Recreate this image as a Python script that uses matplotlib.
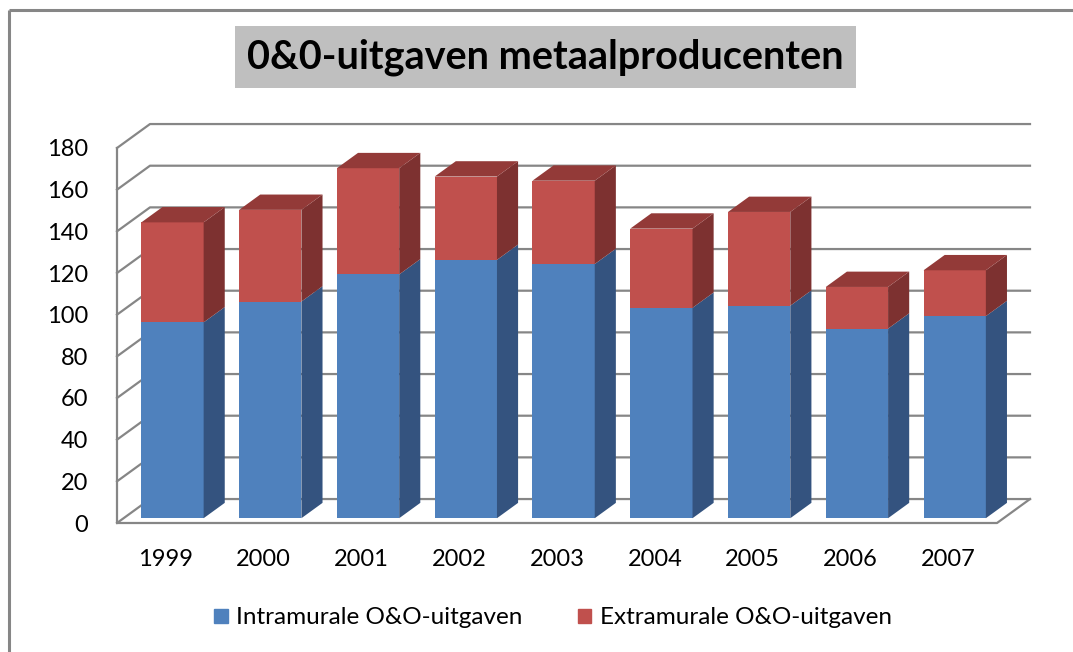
import matplotlib
matplotlib.use("Agg")
import matplotlib.pyplot as plt
from matplotlib.patches import Polygon, Rectangle
from matplotlib.lines import Line2D
import numpy as np

plt.rcParams['font.family'] = ['Lato', 'DejaVu Sans']

years = ['1999', '2000', '2001', '2002', '2003', '2004', '2005', '2006', '2007']
intramuraal = [94, 104, 117, 124, 122, 101, 102, 91, 97]
extramuraal = [48, 44, 51, 40, 40, 38, 45, 20, 22]
yticks = [0, 20, 40, 60, 80, 100, 120, 140, 160, 180]

blue_front, blue_side = '#4F81BD', '#34537F'
red_front, red_side, red_top = '#C0504D', '#7D3130', '#933A38'
grid_col = '#868686'

# oblique depth of the floor/back wall, in data units
ddx, ddy = 0.3375, 11.5
f0, f1 = 0.2, 0.84   # front and back plane of the bars
width = 0.637

fig = plt.figure(figsize=(10.73, 6.52), dpi=100)
ax = fig.add_axes([117 / 1073, 129 / 652, 880 / 1073, 375 / 652])
ax.set_xlim(-0.5, len(years) - 0.5)
ax.set_ylim(0, 180)
for s in ax.spines.values():
    s.set_visible(False)

# chart border (only left and top edges fall inside the image)
bx, by = 8.5 / 1073, 1 - 10 / 652
fig.add_artist(Line2D([bx, bx], [0, by], transform=fig.transFigure,
                      color=grid_col, lw=2.2, solid_capstyle='butt'))
fig.add_artist(Line2D([bx, 1], [by, by], transform=fig.transFigure,
                      color=grid_col, lw=2.2, solid_capstyle='butt'))

# back wall gridlines and floor
x0, x1 = -0.5, len(years) - 0.5
for v in yticks:
    ax.plot([x0, x0 + ddx, x1 + ddx], [v, v + ddy, v + ddy],
            color=grid_col, lw=1.6, clip_on=False, zorder=1)
ax.plot([x0, x0, x1, x1 + ddx], [180, 0, 0, ddy],
        color=grid_col, lw=1.6, clip_on=False, zorder=1)

x = np.arange(len(years))
D = f1 - f0
bottom = np.zeros(len(years))
for vals, front, side in [(intramuraal, blue_front, blue_side),
                          (extramuraal, red_front, red_side)]:
    ax.bar(x + f0 * ddx, vals, width, bottom=bottom + f0 * ddy,
           color=front, zorder=3, clip_on=False)
    for i, v in enumerate(vals):
        xr = i + width / 2 + f0 * ddx
        yb = bottom[i] + f0 * ddy
        yt = yb + v
        ax.add_patch(Polygon([(xr, yb), (xr + D * ddx, yb + D * ddy),
                              (xr + D * ddx, yt + D * ddy), (xr, yt)],
                             closed=True, facecolor=side, edgecolor='none',
                             zorder=3, clip_on=False))
    bottom = bottom + np.array(vals)

# tops of the stacks
for i, t in enumerate(bottom):
    xl = i - width / 2 + f0 * ddx
    xr = xl + width
    yt = t + f0 * ddy
    ax.add_patch(Polygon([(xl, yt), (xr, yt), (xr + D * ddx, yt + D * ddy),
                          (xl + D * ddx, yt + D * ddy)],
                         closed=True, facecolor=red_top, edgecolor='none',
                         zorder=3, clip_on=False))

ax.set_xticks(x)
ax.set_xticklabels(years)
ax.set_yticks(yticks)
ax.tick_params(length=0, labelsize=17, colors='black')
ax.tick_params(axis='x', pad=19)
ax.tick_params(axis='y', pad=21)

fig.text(0.5085, 1 - 57 / 652, '0&0-uitgaven metaalproducenten', ha='center',
         va='center', fontsize=28.5, fontweight='bold',
         bbox=dict(boxstyle='square,pad=0.3', facecolor='#BFBFBF', edgecolor='none'))

# legend
handles = [Rectangle((0, 0), 1, 1, color=blue_front),
           Rectangle((0, 0), 1, 1, color=red_front)]
fig.legend(handles, ['Intramurale O&O-uitgaven', 'Extramurale O&O-uitgaven'],
           loc='center', bbox_to_anchor=(553 / 1073, 1 - 618 / 652), ncol=2,
           frameon=False, fontsize=17.5, handlelength=0.55, handleheight=0.55,
           handletextpad=0.35, columnspacing=2.26)

fig.savefig('out.png', dpi=100)
